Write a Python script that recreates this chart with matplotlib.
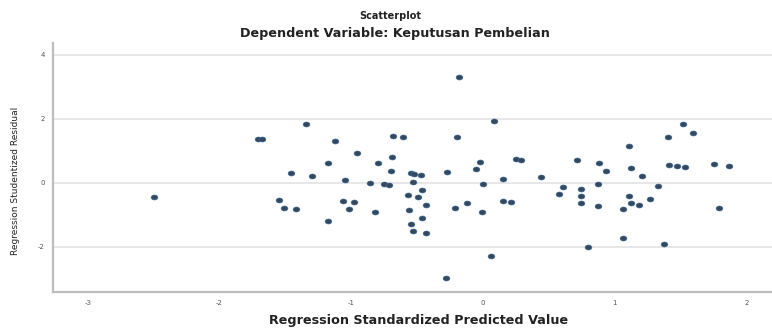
import numpy as np
import matplotlib
matplotlib.use("Agg")
import matplotlib.pyplot as plt

# predicted value (x) and studentized residual (y)
pred = [-2.50, -1.71, -1.68, -1.34, -1.12, -1.46, -1.55, -1.51, -1.42, -1.30,
        -1.18, -1.18, -1.06, -1.02, -0.98, -1.05, -0.96, -0.86, -0.82, -0.80,
        -0.75, -0.71, -0.70, -0.69, -0.68, -0.61, -0.55, -0.52, -0.47, -0.53,
        -0.46, -0.57, -0.49, -0.43, -0.56, -0.46, -0.55, -0.53, -0.43, -0.27,
        -0.18, 0.08, -0.20, -0.02, -0.05, 0.25, 0.29, 0.15, 0.00, 0.44,
        0.15, 0.21, -0.12, -0.21, -0.01, 0.06, -0.28, 1.40, 1.11, 0.71,
        0.88, 0.93, 1.12, 1.21, 0.87, 1.33, 0.61, 0.58, 0.74, 0.74,
        0.74, 1.11, 1.27, 1.12, 1.18, 0.87, 1.06, 1.06, 0.80, 1.37,
        1.52, 1.59, 1.41, 1.47, 1.53, 1.75, 1.87, 1.79]
resid = [-0.44, 1.38, 1.38, 1.84, 1.31, 0.31, -0.53, -0.78, -0.81, 0.22,
         0.63, -1.19, -0.56, -0.81, -0.59, 0.09, 0.94, 0.00, -0.91, 0.63,
         -0.03, -0.06, 0.38, 0.81, 1.47, 1.44, 0.31, 0.28, 0.25, 0.03,
         -0.22, -0.38, -0.44, -0.69, -0.84, -1.09, -1.28, -1.50, -1.56, 0.34,
         3.31, 1.94, 1.44, 0.66, 0.44, 0.75, 0.72, 0.13, -0.03, 0.19,
         -0.56, -0.59, -0.63, -0.78, -0.91, -2.28, -2.97, 1.44, 1.16, 0.72,
         0.63, 0.38, 0.47, 0.22, -0.03, -0.09, -0.13, -0.34, -0.19, -0.41,
         -0.63, -0.41, -0.50, -0.63, -0.69, -0.72, -0.81, -1.72, -2.00, -1.91,
         1.84, 1.56, 0.56, 0.53, 0.50, 0.59, 0.53, -0.78]

x_ticks = [-3, -2, -1, 0, 1, 2]
y_ticks = [-2, 0, 2, 4]

fig = plt.figure(figsize=(7.72, 3.29), dpi=100)
ax = fig.add_axes([0.0687, 0.1125, 0.9313, 0.757])

# slightly wide oval marker like the original
t = np.linspace(0, 2 * np.pi, 30)
oval = np.column_stack([1.35 * np.cos(t), np.sin(t)])
ax.scatter(pred, resid, marker=oval, s=24, color="#34495e",
           edgecolors="#3f6f9f", linewidths=0.4, zorder=3)

ax.set_xlim(-3.263, 2.193)
ax.set_ylim(-3.41, 4.375)
ax.set_xticks(x_ticks)
ax.set_yticks(y_ticks)
ax.set_xticklabels([str(v) for v in x_ticks])
ax.set_yticklabels([str(v) for v in y_ticks])
ax.tick_params(length=0, labelsize=5, labelcolor="#555555", pad=6)
ax.grid(axis="y", color="#e3e3e3", linewidth=1.2, zorder=0)
ax.set_axisbelow(True)

for side in ("top", "right"):
    ax.spines[side].set_visible(False)
for side in ("left", "bottom"):
    ax.spines[side].set_color("#bdbdbd")
    ax.spines[side].set_linewidth(1.6)

fig.text(0.505, 0.952, "Scatterplot", ha="center", va="center",
         fontsize=7, fontweight="bold", color="#222222")
fig.text(0.512, 0.897, "Dependent Variable: Keputusan Pembelian", ha="center",
         va="center", fontsize=9.2, fontweight="bold", color="#222222")
fig.text(0.542, 0.027, "Regression Standardized Predicted Value", ha="center",
         va="center", fontsize=9.2, fontweight="bold", color="#222222")
fig.text(0.020, 0.45, "Regression Studentized Residual", ha="center",
         va="center", rotation=90, fontsize=6.5, color="#222222")

fig.savefig("out.png", dpi=100)
